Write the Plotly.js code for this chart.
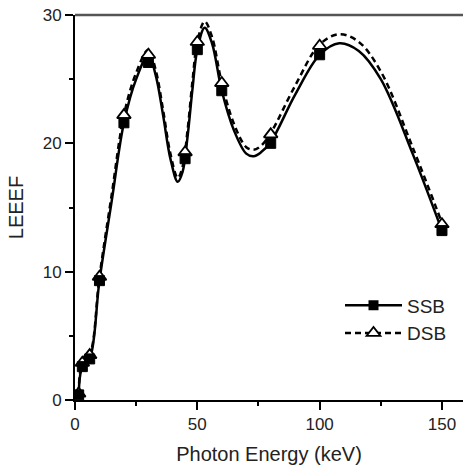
<!DOCTYPE html>
<html>
<head>
<meta charset="utf-8">
<script src="https://cdn.plot.ly/plotly-3.0.1.min.js"></script>
<style>html,body{margin:0;padding:0;background:#fff;}#chart{width:463px;height:466px;}</style>
</head>
<body>
<div id="chart"></div>
<script>
// Measured points (photon energy in keV)
var energy = [1.5, 3, 6, 10, 20, 30, 45, 50, 60, 80, 100, 150];
var ssbValues = [0.4, 2.6, 3.2, 9.3, 21.6, 26.3, 18.8, 27.3, 24.1, 20.0, 26.9, 13.2];
var dsbValues = [0.5, 2.9, 3.5, 9.6, 22.2, 26.9, 19.3, 27.9, 24.7, 20.7, 27.6, 13.7];

// Fitted curves
var fitEnergy = [1.5, 3, 6, 10, 15, 20, 25, 30, 33, 36, 39, 42, 44, 46, 48, 50, 53, 56, 60, 65, 70, 73, 76, 80, 90, 100, 108, 116, 125, 138, 150];
var ssbFit = [0.4, 2.6, 3.2, 9.3, 15.5, 21.6, 25.0, 26.9, 25.3, 22.2, 18.8, 17.0, 17.8, 20.5, 24.2, 27.3, 29.0, 27.8, 24.1, 21.0, 19.2, 19.0, 19.3, 20.1, 23.8, 26.9, 27.8, 27.2, 25.0, 19.2, 13.2];
var dsbFit = [0.5, 2.9, 3.5, 9.6, 16.0, 22.2, 25.5, 27.3, 25.7, 22.6, 19.2, 17.3, 18.2, 21.0, 24.8, 27.9, 29.5, 28.3, 24.7, 21.5, 19.7, 19.5, 19.8, 20.8, 24.5, 27.7, 28.5, 27.9, 25.6, 19.7, 13.8];

var seriesNames = ['SSB', 'DSB'];
var xTitle = 'Photon Energy (keV)';
var yTitle = 'LEEEF';
var xTickVals = [0, 50, 100, 150];
var yTickVals = [0, 10, 20, 30];

var font = '"Liberation Sans", Arial, Helvetica, sans-serif';

var traces = [
  {x: fitEnergy, y: dsbFit, mode: 'lines', line: {color: '#000', width: 2.5, dash: '6px,4px', shape: 'spline', smoothing: 1}, showlegend: false, hoverinfo: 'skip'},
  {x: fitEnergy, y: ssbFit, mode: 'lines', line: {color: '#000', width: 2.5, shape: 'spline', smoothing: 1}, showlegend: false, hoverinfo: 'skip'},
  {x: energy, y: dsbValues, mode: 'markers', marker: {symbol: 'triangle-up', size: 12, color: '#fff', line: {color: '#000', width: 1.8}}, showlegend: false},
  {x: energy, y: ssbValues, mode: 'markers', marker: {symbol: 'square', size: 10, color: '#000', line: {color: '#000', width: 1}}, showlegend: false},
  // legend entries
  {x: [null], y: [null], name: seriesNames[0], mode: 'lines+markers', line: {color: '#000', width: 2.5}, marker: {symbol: 'square', size: 10, color: '#000'}},
  {x: [null], y: [null], name: seriesNames[1], mode: 'lines+markers', line: {color: '#000', width: 2.5, dash: '6px,4px'}, marker: {symbol: 'triangle-up', size: 12, color: '#fff', line: {color: '#000', width: 1.8}}}
];

var layout = {
  width: 463, height: 466,
  margin: {l: 75, r: 0, t: 15, b: 66},
  paper_bgcolor: '#fff', plot_bgcolor: '#fff',
  font: {family: font, size: 17, color: '#222'},
  showlegend: true,
  legend: {x: 0.683, y: 0.295, xanchor: 'left', yanchor: 'top', font: {family: font, size: 19, color: '#222'}, bgcolor: 'rgba(0,0,0,0)', itemwidth: 57, tracegroupgap: 0},
  xaxis: {
    range: [0, 158.6], showgrid: false, zeroline: false,
    showline: true, linecolor: '#000', linewidth: 2,
    ticks: 'outside', ticklen: 8, tickwidth: 2, tickcolor: '#000',
    tickvals: xTickVals, tickfont: {size: 17, color: '#222'},
    minor: {tickvals: [25, 75, 125], ticks: 'outside', ticklen: 4, tickwidth: 2, tickcolor: '#000'},
    title: {text: xTitle, font: {size: 20, color: '#222'}, standoff: 14}
  },
  yaxis: {
    range: [0, 30], showgrid: false, zeroline: false,
    showline: true, linecolor: '#000', linewidth: 2,
    ticks: 'outside', ticklen: 8, tickwidth: 2, tickcolor: '#000',
    tickvals: yTickVals, tickfont: {size: 17, color: '#222'},
    minor: {tickvals: [5, 15, 25], ticks: 'outside', ticklen: 4, tickwidth: 2, tickcolor: '#000'},
    title: {text: yTitle, font: {size: 20, color: '#222'}, standoff: 14}
  },
  shapes: [
    {type: 'line', xref: 'paper', yref: 'paper', x0: 0, x1: 1, y0: 1, y1: 1, line: {color: '#555', width: 2.5}}
  ]
};

Plotly.newPlot('chart', traces, layout, {displayModeBar: false, staticPlot: true});
</script>
</body>
</html>
